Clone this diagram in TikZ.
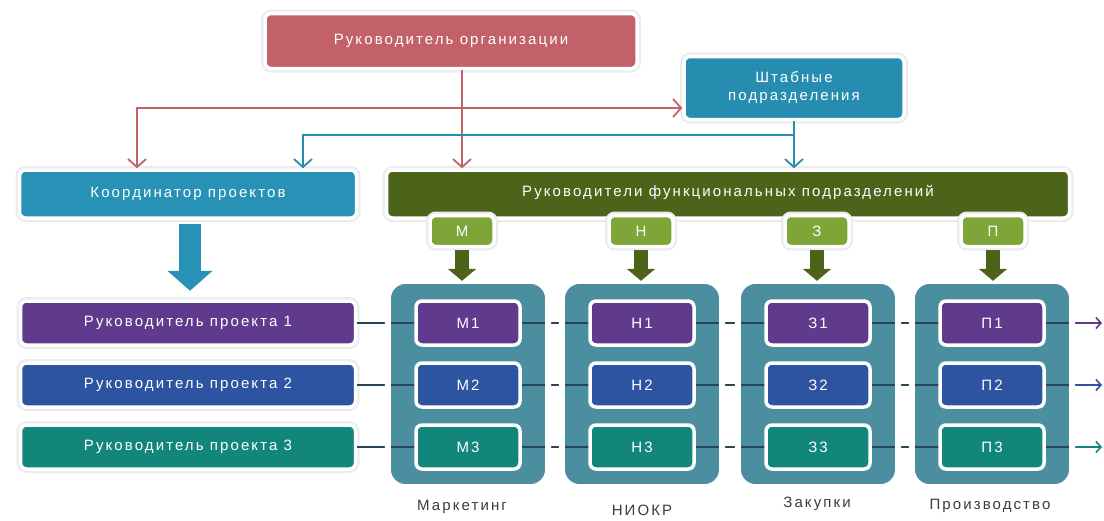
\documentclass[tikz,border=0pt]{standalone}
\usepackage{fontspec}
\setmainfont[LetterSpace=14]{Liberation Sans}
\usetikzlibrary{arrows.meta,calc}
\definecolor{cRed}{RGB}{194,98,104}
\definecolor{cShtab}{RGB}{38,140,176}
\definecolor{cCoord}{RGB}{40,146,182}
\definecolor{cGreen}{RGB}{75,100,25}
\definecolor{cLight}{RGB}{125,165,55}
\definecolor{cCol}{RGB}{74,142,160}
\definecolor{cPurple}{RGB}{96,58,140}
\definecolor{cBlue}{RGB}{44,84,160}
\definecolor{cTeal}{RGB}{18,134,122}
\definecolor{cLine}{RGB}{40,70,85}
\definecolor{cLabel}{RGB}{60,60,60}
\definecolor{cGlow}{RGB}{234,236,238}
\tikzset{
  basebox/.style={rectangle, rounded corners=6pt, draw=white, line width=3.5pt,
    text=white, inner sep=0pt, align=center,
    font=\fontsize{15}{18}\selectfont},
  box/.style={basebox, preaction={draw=cGlow, line width=8pt}},
  inner/.style={basebox, minimum width=104pt, minimum height=44pt},
  proj/.style={box, minimum width=335pt, minimum height=44pt},
  small/.style={box, fill=cLight, minimum width=64pt, minimum height=31pt},
  colbox/.style={rectangle, rounded corners=18pt, fill=cCol, minimum width=160pt,
    minimum height=206pt, inner sep=0pt},
  colrim/.style={draw=white, line width=6pt, rounded corners=18pt},
  thinarrow/.style={line width=1.8pt, -{Straight Barb[length=8pt,width=18pt]}},
  greenarrow/.style={draw=cGreen, line width=14pt, -{Triangle[length=12pt,width=28pt]}},
  rowline/.style={draw=cLine, line width=1.6pt},
  lbl/.style={text=cLabel, font=\fontsize{15}{18}\selectfont, inner sep=0pt}
}
\begin{document}
\begin{tikzpicture}[x=1pt,y=-1pt]
\useasboundingbox (0,0) rectangle (1104,520);
% top boxes
\node[box, fill=cRed, minimum width=372pt, minimum height=55pt] (head) at (451,41) {Руководитель организации};
\node[box, fill=cShtab, minimum width=220pt, minimum height=63pt] (shtab) at (794,88) {Штабные\\подразделения};
\node[box, fill=cCoord, minimum width=337pt, minimum height=48pt] (coord) at (188,194) {Координатор проектов};
\node[box, fill=cGreen, minimum width=683pt, minimum height=48pt, text depth=6pt] (func) at (728,194) {Руководители функциональных подразделений};
% small letter boxes
\node[small] (sM) at (462,231) {М};
\node[small] (sN) at (641,231) {Н};
\node[small] (sZ) at (817,231) {З};
\node[small] (sP) at (993,231) {П};
% columns
\node[colbox] (cM) at (468,384) {};
\node[colbox] (cN) at (642,384) {};
\node[colbox] (cZ) at (818,384) {};
\node[colbox] (cP) at (992,384) {};
% project managers
\node[proj, fill=cPurple] (p1) at (188,323) {Руководитель проекта 1};
\node[proj, fill=cBlue] (p2) at (188,385) {Руководитель проекта 2};
\node[proj, fill=cTeal] (p3) at (188,447) {Руководитель проекта 3};
% right ends
\coordinate (e1) at (1102,323);
\coordinate (e2) at (1102,385);
\coordinate (e3) at (1102,447);
% row lines
\draw[rowline] (p1.east) -- (cP.east |- p1.east);
\draw[rowline] (p2.east) -- (cP.east |- p2.east);
\draw[rowline] (p3.east) -- (cP.east |- p3.east);
\draw[line width=1.6pt, draw=cPurple, -{Straight Barb[length=5pt,width=11pt]}] (cP.east |- p1.east) -- (e1);
\draw[line width=1.6pt, draw=cBlue, -{Straight Barb[length=5pt,width=11pt]}] (cP.east |- p2.east) -- (e2);
\draw[line width=1.6pt, draw=cTeal, -{Straight Barb[length=5pt,width=11pt]}] (cP.east |- p3.east) -- (e3);
% column rims
\foreach \c in {cM,cN,cZ,cP} {
  \draw[colrim] (\c.north west) rectangle (\c.south east);
}
% inner boxes
\node[inner, fill=cPurple] (m1) at (cM |- p1) {М1};
\node[inner, fill=cBlue] (m2) at (cM |- p2) {М2};
\node[inner, fill=cTeal] (m3) at (cM |- p3) {М3};
\node[inner, fill=cPurple] (n1) at (cN |- p1) {Н1};
\node[inner, fill=cBlue] (n2) at (cN |- p2) {Н2};
\node[inner, fill=cTeal] (n3) at (cN |- p3) {Н3};
\node[inner, fill=cPurple] (z1) at (cZ |- p1) {З1};
\node[inner, fill=cBlue] (z2) at (cZ |- p2) {З2};
\node[inner, fill=cTeal] (z3) at (cZ |- p3) {З3};
\node[inner, fill=cPurple] (q1) at (cP |- p1) {П1};
\node[inner, fill=cBlue] (q2) at (cP |- p2) {П2};
\node[inner, fill=cTeal] (q3) at (cP |- p3) {П3};
% labels
\node[lbl] (lM) at (462,507) {Маркетинг};
\node[lbl] (lN) at (642,510) {НИОКР};
\node[lbl] (lZ) at (817,504) {Закупки};
\node[lbl] (lP) at (990,506) {Производство};
% red connectors
\coordinate (rj) at (462,108);
\coordinate (rl) at (137,108);
\coordinate (tj) at (794,135);
\coordinate (tl) at (303,135);
\draw[cRed, line width=1.8pt] (head.south -| sM.north) -- (rj);
\draw[cRed, thinarrow] (head.south -| sM.north) -- (func.north -| sM.north);
\draw[cRed, thinarrow] (rl) -- (rj) -- (shtab.west |- rj);
\draw[cRed, thinarrow] (rj) -- (rl) -- (coord.north -| rl);
% teal connectors
\draw[cShtab, thinarrow] (shtab.south) -- (func.north -| shtab.south);
\draw[cShtab, thinarrow] (tj) -- (tl) -- (coord.north -| tl);
% big teal arrow
\draw[draw=cCoord, line width=22pt, -{Triangle[length=20pt,width=44pt]}] ($(coord.south)+(2,4)$) -- ($(coord.south |- cM.north)+(2,10)$);
% green arrows
\draw[greenarrow] ($(sM.south)+(0,2)$) -- (sM.south |- cM.north);
\draw[greenarrow] ($(sN.south)+(0,2)$) -- (sN.south |- cN.north);
\draw[greenarrow] ($(sZ.south)+(0,2)$) -- (sZ.south |- cZ.north);
\draw[greenarrow] ($(sP.south)+(0,2)$) -- (sP.south |- cP.north);
\end{tikzpicture}
\end{document}
